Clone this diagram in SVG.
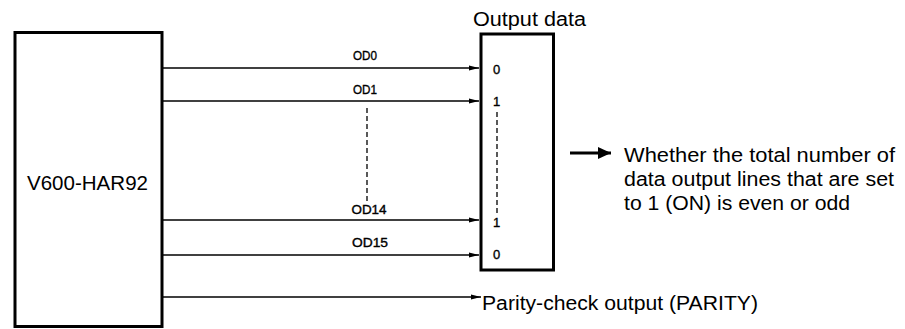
<svg xmlns="http://www.w3.org/2000/svg" width="905" height="329" viewBox="0 0 905 329">
<style>
.box{fill:#fff;stroke:#000;stroke-width:3}
.ln{stroke:#000;stroke-width:1.6;fill:none}
.dash{stroke:#000;stroke-width:1.3;stroke-dasharray:5 3;fill:none}
.big{font-family:"Liberation Sans",Arial,sans-serif;font-size:19.5px;fill:#000}
.sm{font-family:"Liberation Sans",Arial,sans-serif;font-size:12px;fill:#000;stroke:#000;stroke-width:0.35}
.dg{font-family:"Liberation Sans",Arial,sans-serif;font-size:13px;fill:#000;stroke:#000;stroke-width:0.35}
</style>
<defs>
<marker id="ah" markerWidth="10" markerHeight="6" refX="10" refY="3" orient="auto" markerUnits="userSpaceOnUse">
<path d="M0,0.6 L10,3 L0,5.4 Z" fill="#000"/>
</marker>
<marker id="ahb" markerWidth="14" markerHeight="12" refX="13" refY="6" orient="auto" markerUnits="userSpaceOnUse">
<path d="M0,0 L13,6 L0,12 Z" fill="#000"/>
</marker>
</defs>
<g id="connectors">
<line class="ln" x1="162" y1="68" x2="479" y2="68" marker-end="url(#ah)"/>
<line class="ln" x1="162" y1="101" x2="479" y2="101" marker-end="url(#ah)"/>
<line class="ln" x1="162" y1="220" x2="479" y2="220" marker-end="url(#ah)"/>
<line class="ln" x1="162" y1="255" x2="479" y2="255" marker-end="url(#ah)"/>
<line class="ln" x1="162" y1="297" x2="481" y2="297" marker-end="url(#ah)"/>
<line class="dash" x1="367" y1="108" x2="367" y2="202"/>
<line x1="570" y1="153" x2="611" y2="153" stroke="#000" stroke-width="3" marker-end="url(#ahb)"/>
<text class="sm" x="365" y="60" text-anchor="middle" textLength="24" lengthAdjust="spacingAndGlyphs">OD0</text>
<text class="sm" x="365" y="94" text-anchor="middle" textLength="24" lengthAdjust="spacingAndGlyphs">OD1</text>
<text class="sm" x="369" y="214" text-anchor="middle" textLength="35" lengthAdjust="spacingAndGlyphs">OD14</text>
<text class="sm" x="370" y="247" text-anchor="middle" textLength="36" lengthAdjust="spacingAndGlyphs">OD15</text>
</g>
<g id="v600">
<rect class="box" x="15" y="32.5" width="147" height="294"/>
<text class="big" x="27" y="190" textLength="121" lengthAdjust="spacingAndGlyphs">V600-HAR92</text>
</g>
<g id="output-data">
<rect class="box" x="481" y="34" width="72.5" height="236"/>
<text class="big" x="473" y="26" textLength="113" lengthAdjust="spacingAndGlyphs">Output data</text>
<text class="dg" x="493" y="74">0</text>
<text class="dg" x="493" y="106">1</text>
<line class="dash" x1="497" y1="112" x2="497" y2="214"/>
<text class="dg" x="493" y="227">1</text>
<text class="dg" x="493" y="259">0</text>
</g>
<g id="parity-note">
<text class="big" x="624" y="162" textLength="271" lengthAdjust="spacingAndGlyphs">Whether the total number of</text>
<text class="big" x="624" y="186" textLength="270" lengthAdjust="spacingAndGlyphs">data output lines that are set</text>
<text class="big" x="624" y="210" textLength="226" lengthAdjust="spacingAndGlyphs">to 1 (ON) is even or odd</text>
</g>
<g id="parity-output">
<text class="big" x="482" y="310" textLength="276" lengthAdjust="spacingAndGlyphs">Parity-check output (PARITY)</text>
</g>
</svg>
